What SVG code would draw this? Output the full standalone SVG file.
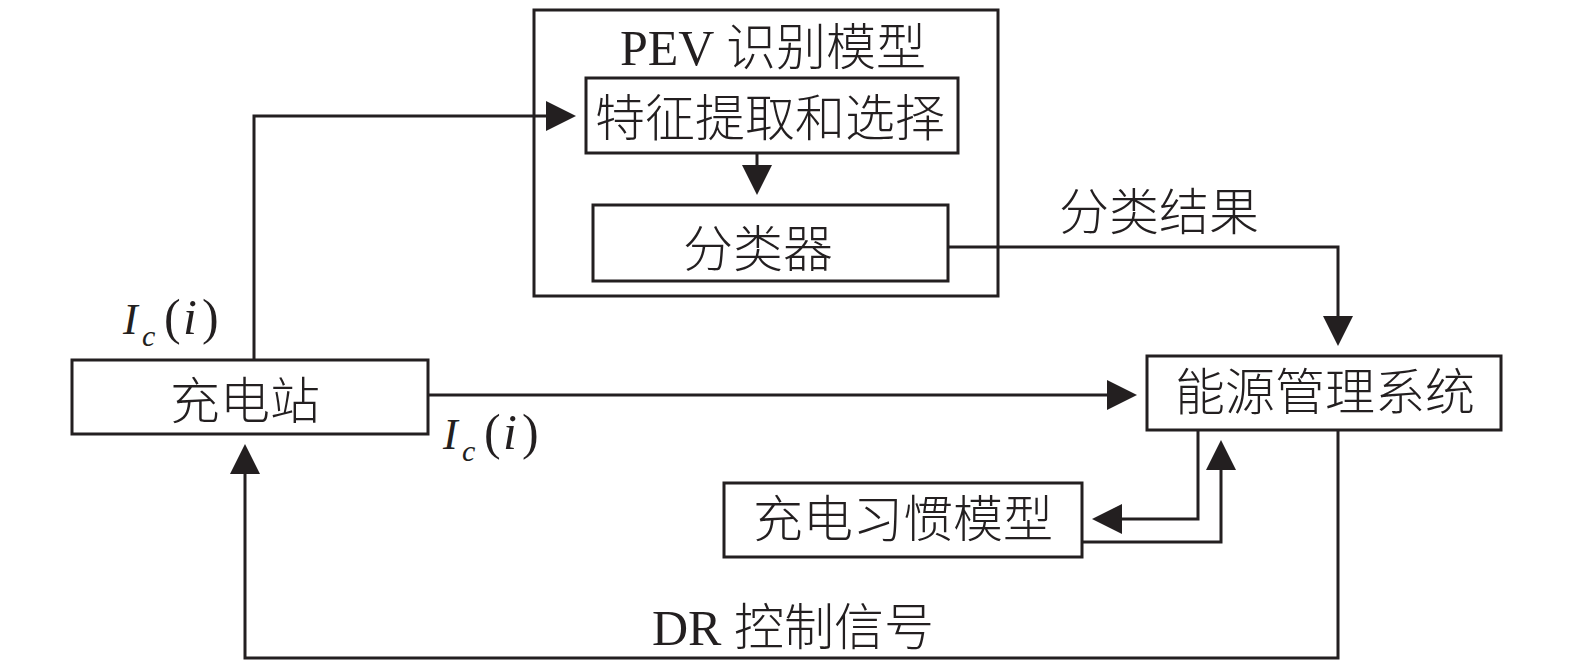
<svg xmlns="http://www.w3.org/2000/svg" width="1575" height="663" viewBox="0 0 1575 663">
<style>
.box{fill:none;stroke:#231f20;stroke-width:3}
.wire{fill:none;stroke:#231f20;stroke-width:3}
.t{font-family:"Liberation Serif","Noto Sans CJK SC",serif;font-size:50px;font-weight:300;fill:#231f20;text-anchor:middle}
.m{font-family:"Liberation Serif",serif;fill:#231f20}
.it{font-style:italic}
</style>
<defs>
<marker id="ah" markerUnits="userSpaceOnUse" markerWidth="30" markerHeight="30" refX="20" refY="15" orient="auto" viewBox="0 0 30 30">
<path d="M0,0 L30,15 L0,30 z" fill="#231f20"/>
</marker>
</defs>
<rect width="1575" height="663" fill="#ffffff"/>
<g id="pev-model">
<rect class="box" x="534" y="10" width="464" height="286"/>
<text class="t" x="773" y="65">PEV 识别模型</text>
</g>
<g id="feature">
<rect class="box" x="586" y="78" width="372" height="75"/>
<text class="t" x="770" y="136">特征提取和选择</text>
</g>
<g id="classifier">
<rect class="box" x="593" y="205" width="355" height="76"/>
<text class="t" x="758" y="267">分类器</text>
</g>
<g id="station">
<rect class="box" x="72" y="360" width="356" height="74"/>
<text class="t" x="245" y="419">充电站</text>
</g>
<g id="ems">
<rect class="box" x="1147" y="356" width="354" height="74"/>
<text class="t" x="1325" y="410">能源管理系统</text>
</g>
<g id="habit">
<rect class="box" x="724" y="483" width="358" height="74"/>
<text class="t" x="903" y="537">充电习惯模型</text>
</g>
<g id="connectors">
<path class="wire" d="M254,360 V116 H566" marker-end="url(#ah)"/>
<path class="wire" d="M757,153 V185" marker-end="url(#ah)"/>
<path class="wire" d="M948,247 H1338 V336" marker-end="url(#ah)"/>
<path class="wire" d="M428,395 H1127" marker-end="url(#ah)"/>
<path class="wire" d="M1198,430 V519 H1102" marker-end="url(#ah)"/>
<path class="wire" d="M1082,542 H1221 V450" marker-end="url(#ah)"/>
<path class="wire" d="M1338,430 V658 H245 V454" marker-end="url(#ah)"/>
</g>
<g id="labels">
<text class="t" x="1159" y="230">分类结果</text>
<text class="t" x="793" y="645">DR 控制信号</text>
<text class="m"><tspan class="it" x="123" y="334" font-size="44">I</tspan><tspan class="it" x="142" y="346" font-size="30">c</tspan><tspan x="164" y="334" font-size="50">(</tspan><tspan class="it" x="183" y="334" font-size="50">i</tspan><tspan x="202" y="334" font-size="50">)</tspan></text>
<text class="m"><tspan class="it" x="443" y="449" font-size="44">I</tspan><tspan class="it" x="462" y="461" font-size="30">c</tspan><tspan x="484" y="449" font-size="50">(</tspan><tspan class="it" x="503" y="449" font-size="50">i</tspan><tspan x="522" y="449" font-size="50">)</tspan></text>
</g>
</svg>
